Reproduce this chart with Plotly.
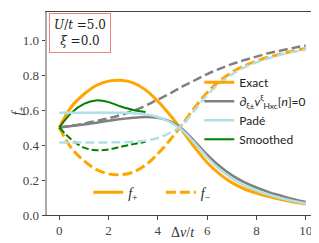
import plotly.graph_objects as go

x = [0, 0.5, 1, 1.5, 2, 2.5, 3, 3.5, 4, 4.5, 5, 5.5, 6, 6.5, 7, 7.5, 8, 8.5, 9, 9.5, 10]

exact_p = [0.50, 0.62, 0.69, 0.74, 0.765, 0.77, 0.755, 0.715, 0.65, 0.57, 0.48, 0.385, 0.30, 0.235, 0.185, 0.15, 0.125, 0.105, 0.088, 0.074, 0.063]
exact_m = [0.50, 0.38, 0.31, 0.26, 0.235, 0.23, 0.245, 0.285, 0.35, 0.43, 0.52, 0.615, 0.70, 0.765, 0.815, 0.852, 0.88, 0.902, 0.92, 0.937, 0.952]
dv0_p = [0.50, 0.508, 0.517, 0.527, 0.538, 0.548, 0.556, 0.56, 0.555, 0.535, 0.49, 0.42, 0.345, 0.28, 0.228, 0.188, 0.157, 0.131, 0.11, 0.09, 0.074]
dv0_m = [0.50, 0.51, 0.522, 0.537, 0.553, 0.572, 0.595, 0.625, 0.66, 0.695, 0.735, 0.77, 0.805, 0.835, 0.862, 0.885, 0.905, 0.925, 0.94, 0.955, 0.968]
pade_p = [0.585, 0.585, 0.585, 0.585, 0.585, 0.584, 0.582, 0.575, 0.56, 0.53, 0.483, 0.41, 0.33, 0.262, 0.21, 0.17, 0.14, 0.116, 0.096, 0.08, 0.066]
pade_m = [0.415, 0.415, 0.415, 0.415, 0.415, 0.416, 0.418, 0.425, 0.44, 0.47, 0.515, 0.60, 0.685, 0.752, 0.803, 0.842, 0.872, 0.896, 0.916, 0.932, 0.945]
xs = [0, 0.5, 1, 1.5, 2, 2.5, 3, 3.5]
smooth_p = [0.50, 0.585, 0.635, 0.655, 0.645, 0.62, 0.60, 0.588]
smooth_m = [0.50, 0.43, 0.385, 0.37, 0.375, 0.39, 0.405, 0.418]

xticks = [0, 2, 4, 6, 8, 10]
yticks = [0.0, 0.2, 0.4, 0.6, 0.8, 1.0]
ytick_text = ["0.0", "0.2", "0.4", "0.6", "0.8", "1.0"]

ORANGE = "#FFA500"
GRAY = "#808080"
BLUE = "#B0E0E6"
GREEN = "#008000"

fig = go.Figure()

def add(xv, yv, color, width, dash, name=None, rank=None):
    fig.add_trace(go.Scatter(
        x=xv, y=yv, mode="lines",
        line=dict(color=color, width=width, dash=dash, shape="spline", smoothing=1.0),
        name=name if name else "", showlegend=name is not None,
        legendrank=rank if rank else 1000, legend="legend"))

D3 = "10px,4px"
D25 = "9px,4px"
D2 = "7px,3px"

add(x, exact_p, ORANGE, 3, "solid", "Exact", 1)
add(x, exact_m, ORANGE, 3, D3)
add(x, dv0_p, GRAY, 2.5, "solid", "∂<sub>ξ±</sub><i>v</i><sup>ξ</sup><sub>Hxc</sub>[<i>n</i>]=0", 2)
add(x, dv0_m, GRAY, 2.5, D25)
add(xs, smooth_p, GREEN, 2, "solid", "Smoothed", 4)
add(xs, smooth_m, GREEN, 2, D2)
add(x, pade_p, BLUE, 2.5, "solid", "Padé", 3)
add(x, pade_m, BLUE, 2.5, D25)

# line-style legends
fig.add_trace(go.Scatter(x=[None], y=[None], mode="lines", line=dict(color=ORANGE, width=3),
                         name="<i>f</i><sub>+</sub>", legend="legend2"))
fig.add_trace(go.Scatter(x=[None], y=[None], mode="lines", line=dict(color=ORANGE, width=3, dash=D3),
                         name="<i>f</i><sub>−</sub>", legend="legend3"))

serif = "Liberation Serif, DejaVu Serif, serif"
sans = "Lato, Liberation Sans, DejaVu Sans, sans-serif"

fig.update_layout(
    width=319, height=243,
    margin=dict(l=39, r=9, t=4, b=36),
    paper_bgcolor="white", plot_bgcolor="white",
    font=dict(family=serif, size=12, color="#333"),
    legend=dict(x=0.562, y=0.725, xanchor="left", yanchor="top", bgcolor="rgba(0,0,0,0)",
                font=dict(family=sans, size=12, color="#222"), itemwidth=30, tracegroupgap=0),
    legend2=dict(x=0.152, y=0.11, xanchor="left", yanchor="middle",
                 bgcolor="rgba(0,0,0,0)", font=dict(family=serif, size=14, color="#222")),
    legend3=dict(x=0.42, y=0.11, xanchor="left", yanchor="middle",
                 bgcolor="rgba(0,0,0,0)", font=dict(family=serif, size=14, color="#222")),
    xaxis=dict(range=[-0.5, 10.5], tickvals=xticks, ticks="outside", ticklen=3.5, tickcolor="#444",
               showgrid=False, zeroline=False, showline=True, linecolor="#444", linewidth=1, mirror=True,
               tickfont=dict(family=serif, size=13, color="#444")),
    yaxis=dict(range=[0, 1.16], tickvals=yticks, ticktext=ytick_text, ticks="outside", ticklen=3.5,
               tickcolor="#444", showgrid=False, zeroline=False, showline=True, linecolor="#aaaaaa", linewidth=2,
               tickfont=dict(family=serif, size=13, color="#444")),
    shapes=[dict(type="line", xref="paper", yref="paper", x0=1, x1=1, y0=0, y1=1,
                 line=dict(color="#444", width=1))],
    annotations=[
        dict(xref="paper", yref="paper", x=0.007, y=0.997, xanchor="left", yanchor="top",
             text="<i>U</i>/<i>t</i> =5.0<br><i>ξ</i> =0.0", showarrow=False, align="center",
             font=dict(family="DejaVu Serif, serif", size=12, color="#222"),
             bordercolor="#F08080", borderwidth=1, borderpad=4, bgcolor="white"),
        dict(xref="paper", yref="paper", x=0.5, y=-0.088, xanchor="center", yanchor="middle",
             text="Δ<i>v</i>/<i>t</i>", showarrow=False, font=dict(family=serif, size=14, color="#333")),
        dict(xref="paper", yref="paper", x=-0.105, y=0.512, xanchor="center", yanchor="middle",
             text="<i>f</i><sub>+</sub>", textangle=-90, showarrow=False,
             font=dict(family=serif, size=14, color="#333")),
    ],
)

fig.write_html("out.html")
